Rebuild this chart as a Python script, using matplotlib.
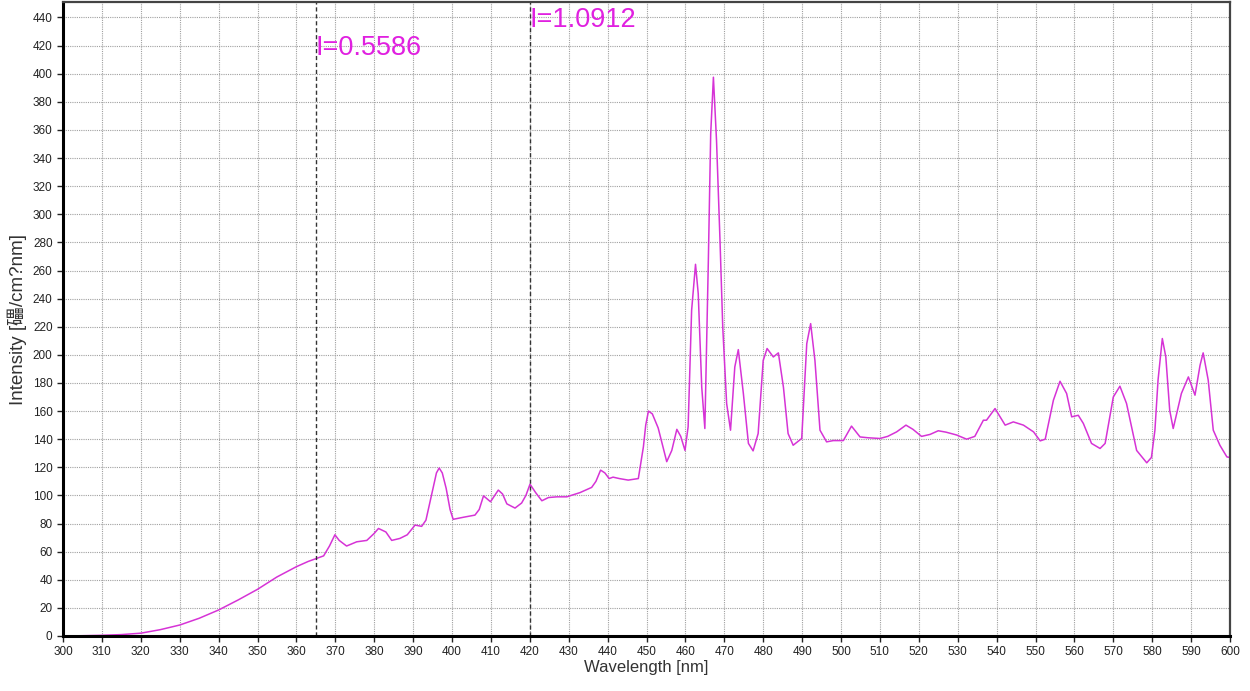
import numpy as np
from matplotlib import pyplot as plt

plt.rcParams['font.family'] = ['Liberation Sans', 'Noto Sans CJK SC', 'DejaVu Sans']

# spectrum
wavelength = [300, 305, 310, 315, 320, 325, 330, 335, 340, 345, 350, 355, 360, 363, 365,
              367, 368.5, 369.9, 371, 372.9, 375.5, 378.1, 380, 381.1, 383, 384.5, 386.6,
              388.5, 390.5, 392.2, 393.3, 394.3, 395.2, 396, 396.7, 397.5, 398.5, 399.5,
              400.3, 403, 405.9, 407, 408.1, 409.9, 411.9, 413, 414.1, 416.2, 417.9, 419,
              420.05, 421.5, 423.1, 424.8, 427, 429.5, 432.9, 435.9, 437, 438.2, 439.3,
              440.4, 441.4, 443, 445.3, 447.9, 449.2, 449.8, 450.5, 451.5, 453, 455.2,
              456.5, 457.8, 458.8, 459.9, 460.7, 461.6, 462.6, 463.3, 464.2, 465.0, 465.9,
              466.5, 467.2, 468.0, 468.9, 469.6, 470.6, 471.6, 472.7, 473.6, 474.9, 476.2,
              477.4, 478.7, 480.0, 481.0, 482.6, 483.9, 485.2, 486.4, 487.7, 489.9, 491.2,
              492.2, 493.3, 494.6, 496.3, 498, 500.6, 502.7, 504.9, 507, 510.0, 512,
              514.3, 516.7, 518.5, 520.7, 522.9, 525.0, 527, 529.7, 532.3, 534.4, 536.6,
              537.4, 539.6, 542.2, 544.3, 546.9, 549.5, 551.2, 552.5, 554.6, 556.3, 558.0,
              559.3, 561.0, 562.3, 564.4, 566.6, 567.9, 570.0, 571.7, 573.4, 576.0, 578.6,
              579.8, 580.7, 581.5, 582.6, 583.5, 584.5, 585.4, 587.5, 589.3, 591.0, 592.3,
              593.1, 594.4, 595.7, 597.4, 599.2, 600]
intensity = [0, 0.2, 0.5, 1, 2, 4.5, 7.8, 12.6, 18.5, 25.6, 33.2, 42, 49.3, 53, 55,
             57, 64, 72, 68, 64, 67, 68, 73, 76.5, 74, 68, 69.4,
             72, 78.9, 78, 82.4, 95, 106, 116, 119.5, 116, 105, 90,
             83, 84.5, 86, 90, 99.7, 95.5, 103.8, 101, 94, 91, 94.6, 100,
             108, 102, 96.2, 98.5, 99, 99, 102, 105.7, 110, 118, 116,
             112, 113, 112, 110.9, 112, 134.5, 150, 160, 158, 148, 124,
             132, 147, 142, 132, 148.8, 231.7, 264.4, 243.5, 177, 147.6, 267,
             357, 397.5, 352.5, 281, 219.8, 165.4, 146.4, 191.4, 203.7, 172.5, 137,
             131.7, 144, 196, 204.5, 198.5, 201.4, 177, 144, 135.7, 140.5, 208,
             222.2, 196, 146.4, 138.1, 139, 139, 149.3, 141.6, 141, 140.5, 142,
             145.2, 150, 147, 142, 143.4, 146, 145, 143, 140, 142, 153.5,
             153.5, 161.8, 150, 152.3, 150, 145.2, 138.8, 140, 167.7, 181.2, 172.5,
             155.9, 157, 151.2, 137, 133.4, 137, 170, 177.7, 165.4, 132, 123.2,
             127, 146.4, 182, 211.6, 198.5, 160.6, 147.6, 172.5, 184.3, 171.3, 192.6,
             201.4, 182, 146.4, 135.7, 127.4, 127]

marker_x = [365, 420]
marker_labels = ['I=0.5586', 'I=1.0912']
marker_label_y = [413, 433]

fig = plt.figure(figsize=(12.5, 6.91), dpi=100)
ax = fig.add_axes([0.0504, 0.0796, 0.9336, 0.9175])

ax.plot(wavelength, intensity, color='#d633d6', lw=1.1)

for xm, lab, ym in zip(marker_x, marker_labels, marker_label_y):
    ax.axvline(xm, color='#333333', lw=1.0, ls=(0, (3, 2)))
    ax.text(xm, ym, lab, color='#e020e0', fontsize=19.5, ha='left', va='baseline')

ax.set_xlim(300, 600)
ax.set_ylim(0, 451)
ax.set_xticks(np.arange(300, 601, 10))
ax.set_yticks(np.arange(0, 441, 20))
ax.grid(True, color='#a0a0a0', lw=0.8, ls=(0, (1, 1)))
ax.tick_params(labelsize=8.5, length=4, width=1, colors='#222222')

for s in ['left', 'bottom']:
    ax.spines[s].set_linewidth(2.2)
    ax.spines[s].set_color('black')
for s in ['top', 'right']:
    ax.spines[s].set_linewidth(1.6)
    ax.spines[s].set_color('#444444')

ax.set_xlabel('Wavelength [nm]', fontsize=12, color='#333333', labelpad=1)
ax.set_ylabel('Intensity [礧/cm?nm]', fontsize=13.5, color='#333333', labelpad=4)

fig.savefig('out.png', dpi=100)
